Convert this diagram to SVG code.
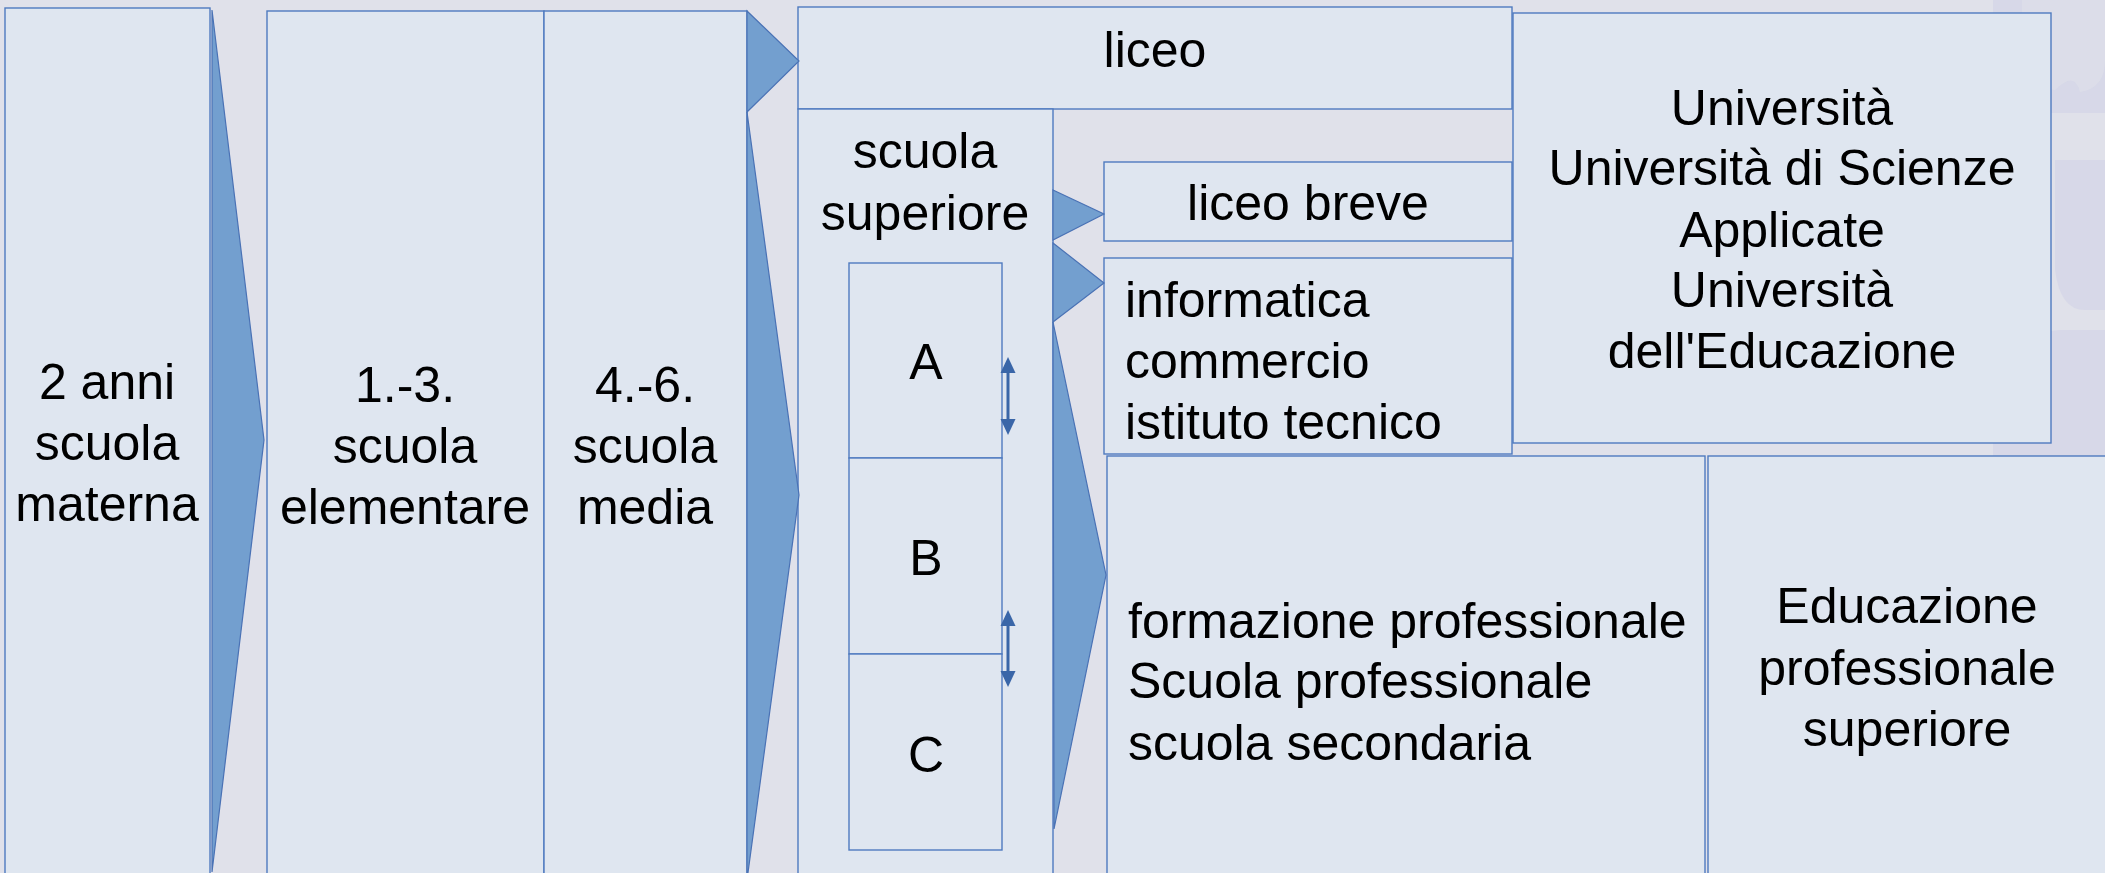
<svg xmlns="http://www.w3.org/2000/svg" width="2105" height="873" viewBox="0 0 2105 873">
<defs>
<style>
.box{fill:#dfe6f0;stroke:#4f7abf;stroke-width:1.4}
.chev{fill:#739fcf;stroke:#4a72b5;stroke-width:1.2;stroke-linejoin:miter}
.t{font-family:"Liberation Sans",Arial,sans-serif;font-size:50px;fill:#000}
.c{text-anchor:middle}
.wm{fill:#d7d8e8}
.dbl{stroke:#3a66a8;stroke-width:3;fill:none}
.ah{fill:#3a66a8}
</style>
</defs>
<rect x="0" y="0" width="2105" height="873" fill="#e0e1ea"/>
<g id="watermark">
<path class="wm" d="M1993,0 L1993,70 Q1995,113 2045,113 L2105,113 L2105,0 Z"/>
<path fill="#e0e1ea" d="M2022,0 L2022,55 Q2025,88 2055,90 Q2075,70 2080,92 Q2105,88 2105,60 L2105,0 Z" opacity="0.6"/>
<path class="wm" d="M2055,160 L2055,270 Q2060,310 2085,310 L2105,310 L2105,160 Z"/>
<path class="wm" d="M1993,380 Q1995,335 2060,330 L2105,330 L2105,456 L1993,456 Z"/>
</g>
<g id="materna">
<rect class="box" x="5" y="8" width="205" height="880"/>
<text class="t c" x="107" y="399">2 anni</text>
<text class="t c" x="107" y="460">scuola</text>
<text class="t c" x="107" y="521">materna</text>
</g>
<g id="elementare">
<rect class="box" x="267" y="11" width="277" height="880"/>
<text class="t c" x="405" y="402">1.-3.</text>
<text class="t c" x="405" y="463">scuola</text>
<text class="t c" x="405" y="524">elementare</text>
</g>
<g id="media">
<rect class="box" x="544" y="11" width="203" height="880"/>
<text class="t c" x="645" y="402">4.-6.</text>
<text class="t c" x="645" y="463">scuola</text>
<text class="t c" x="645" y="524">media</text>
</g>
<g id="liceo">
<rect class="box" x="798" y="7" width="714" height="102"/>
<text class="t c" x="1155" y="67">liceo</text>
</g>
<g id="superiore">
<rect class="box" x="798" y="109" width="255" height="780"/>
<text class="t c" x="925" y="168">scuola</text>
<text class="t c" x="925" y="230">superiore</text>
</g>
<g id="A">
<rect class="box" x="849" y="263" width="153" height="195"/>
<text class="t c" x="926" y="379">A</text>
</g>
<g id="B">
<rect class="box" x="849" y="458" width="153" height="196"/>
<text class="t c" x="926" y="575">B</text>
</g>
<g id="C">
<rect class="box" x="849" y="654" width="153" height="196"/>
<text class="t c" x="926" y="772">C</text>
</g>
<g id="liceobreve">
<rect class="box" x="1104" y="162" width="408" height="79"/>
<text class="t c" x="1308" y="220">liceo breve</text>
</g>
<g id="informatica">
<rect class="box" x="1104" y="258" width="408" height="196"/>
<text class="t" x="1125" y="317">informatica</text>
<text class="t" x="1125" y="378">commercio</text>
<text class="t" x="1125" y="439">istituto tecnico</text>
</g>
<g id="universita">
<rect class="box" x="1513" y="13" width="538" height="430"/>
<text class="t c" x="1782" y="125">Università</text>
<text class="t c" x="1782" y="185">Università di Scienze</text>
<text class="t c" x="1782" y="247">Applicate</text>
<text class="t c" x="1782" y="307">Università</text>
<text class="t c" x="1782" y="368">dell'Educazione</text>
</g>
<g id="formazione">
<rect class="box" x="1107" y="456" width="598" height="430"/>
<text class="t" x="1128" y="638">formazione professionale</text>
<text class="t" x="1128" y="698">Scuola professionale</text>
<text class="t" x="1128" y="760">scuola secondaria</text>
</g>
<g id="educazione">
<rect class="box" x="1708" y="456" width="410" height="430"/>
<text class="t c" x="1907" y="623">Educazione</text>
<text class="t c" x="1907" y="685">professionale</text>
<text class="t c" x="1907" y="746">superiore</text>
</g>
<g id="connectors">
<polygon class="chev" points="212,10 264,440 212,872"/>
<polygon class="chev" points="747,11 799,61 747,112"/>
<polygon class="chev" points="747,112 799,495 747,880"/>
<polygon class="chev" points="1053,190 1104,214 1053,240"/>
<polygon class="chev" points="1053,243 1104,283 1053,322"/>
<polygon class="chev" points="1053,322 1106,575 1054,829"/>
<g id="arrowAB">
<line class="dbl" x1="1008" y1="370" x2="1008" y2="422"/>
<polygon class="ah" points="1008,357 1000.5,373 1015.5,373"/>
<polygon class="ah" points="1008,435 1000.5,419 1015.5,419"/>
</g>
<g id="arrowBC">
<line class="dbl" x1="1008" y1="623" x2="1008" y2="674"/>
<polygon class="ah" points="1008,610 1000.5,626 1015.5,626"/>
<polygon class="ah" points="1008,687 1000.5,671 1015.5,671"/>
</g>
</g>
</svg>
